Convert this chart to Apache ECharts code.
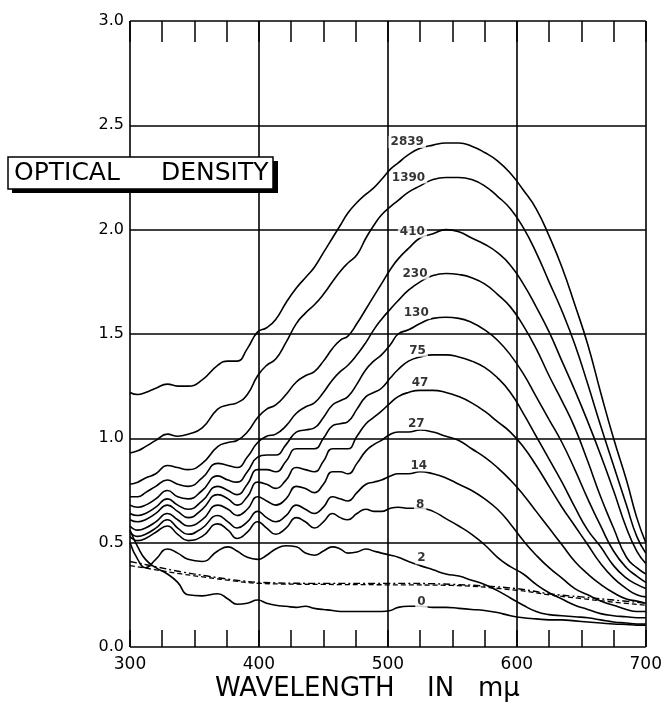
<!DOCTYPE html>
<html><head><meta charset="utf-8">
<script src="https://cdn.jsdelivr.net/npm/echarts/dist/echarts.min.js"></script>
<style>html,body{margin:0;padding:0;background:#fff}#c{width:665px;height:703px}</style>
</head><body><div id="c"></div>
<script>
// Wavelength sample points (m\u03bc) shared by the solid curves
const wavelengths = [300,306,312,320,329,337,345,356,368,376,383,391,399,406,413,421,429,436,443,450,457,463,469,476,483,489,495,502,508,516,525,535,545,555,565,575,585,595,605,615,625,635,645,655,665,675,685,693,700];

const d2839 = [1.22,1.21,1.22,1.24,1.26,1.25,1.25,1.28,1.35,1.37,1.37,1.43,1.51,1.53,1.57,1.65,1.72,1.77,1.82,1.89,1.96,2.02,2.08,2.13,2.17,2.20,2.24,2.29,2.32,2.36,2.39,2.405,2.415,2.415,2.40,2.37,2.33,2.27,2.19,2.10,1.97,1.82,1.64,1.45,1.22,1.00,0.80,0.62,0.50];
const d1390 = [0.93,0.94,0.96,0.99,1.02,1.01,1.02,1.05,1.14,1.16,1.17,1.21,1.30,1.35,1.38,1.46,1.55,1.60,1.64,1.69,1.75,1.80,1.84,1.88,1.96,2.02,2.07,2.11,2.14,2.18,2.21,2.24,2.25,2.25,2.24,2.21,2.16,2.10,2.01,1.89,1.75,1.61,1.45,1.26,1.06,0.87,0.68,0.53,0.45];
const d410 = [0.78,0.79,0.81,0.83,0.87,0.86,0.85,0.88,0.96,0.98,0.99,1.03,1.10,1.14,1.16,1.21,1.27,1.30,1.32,1.37,1.43,1.47,1.49,1.55,1.62,1.68,1.74,1.81,1.86,1.91,1.96,1.98,2.00,1.99,1.96,1.93,1.89,1.83,1.74,1.63,1.51,1.37,1.23,1.08,0.92,0.75,0.57,0.46,0.40];
const d230 = [0.72,0.72,0.74,0.77,0.80,0.78,0.77,0.81,0.88,0.87,0.86,0.91,0.98,1.01,1.02,1.06,1.12,1.15,1.17,1.22,1.28,1.32,1.35,1.40,1.46,1.52,1.57,1.62,1.66,1.71,1.75,1.78,1.79,1.785,1.77,1.74,1.69,1.63,1.54,1.43,1.30,1.18,1.05,0.89,0.72,0.57,0.43,0.38,0.35];
const d130 = [0.68,0.67,0.68,0.71,0.75,0.72,0.71,0.75,0.82,0.80,0.79,0.84,0.91,0.92,0.92,0.97,1.03,1.04,1.05,1.10,1.16,1.18,1.20,1.26,1.33,1.37,1.40,1.45,1.50,1.52,1.55,1.575,1.58,1.575,1.555,1.52,1.47,1.40,1.31,1.20,1.09,0.98,0.85,0.71,0.58,0.46,0.38,0.34,0.31];
const d75 = [0.64,0.63,0.64,0.67,0.71,0.68,0.66,0.70,0.77,0.75,0.73,0.78,0.85,0.85,0.84,0.89,0.95,0.95,0.95,1.00,1.06,1.07,1.08,1.14,1.20,1.22,1.24,1.29,1.33,1.37,1.39,1.40,1.40,1.39,1.37,1.34,1.29,1.22,1.12,1.01,0.90,0.79,0.67,0.56,0.48,0.39,0.33,0.30,0.28];
const d47 = [0.61,0.60,0.61,0.64,0.68,0.65,0.62,0.66,0.73,0.71,0.68,0.72,0.79,0.78,0.76,0.80,0.86,0.85,0.84,0.89,0.95,0.95,0.95,1.01,1.07,1.10,1.13,1.17,1.20,1.22,1.23,1.23,1.22,1.20,1.17,1.13,1.08,1.03,0.96,0.87,0.77,0.67,0.58,0.49,0.40,0.33,0.28,0.25,0.24];
const d27 = [0.58,0.56,0.57,0.60,0.64,0.61,0.58,0.61,0.68,0.66,0.63,0.66,0.72,0.70,0.68,0.71,0.77,0.76,0.74,0.78,0.84,0.84,0.83,0.88,0.94,0.97,0.99,1.02,1.03,1.03,1.04,1.03,1.01,0.99,0.95,0.91,0.86,0.80,0.73,0.65,0.57,0.49,0.41,0.35,0.30,0.26,0.23,0.22,0.21];
const d14 = [0.55,0.53,0.54,0.57,0.61,0.57,0.54,0.57,0.63,0.60,0.57,0.60,0.65,0.62,0.60,0.63,0.68,0.66,0.64,0.67,0.72,0.71,0.70,0.74,0.78,0.79,0.80,0.82,0.83,0.83,0.84,0.83,0.81,0.78,0.75,0.71,0.66,0.59,0.51,0.44,0.38,0.33,0.28,0.25,0.22,0.20,0.18,0.17,0.17];
const d8 = [0.53,0.51,0.52,0.55,0.58,0.54,0.51,0.53,0.59,0.56,0.52,0.55,0.60,0.57,0.54,0.57,0.62,0.60,0.57,0.60,0.64,0.62,0.61,0.64,0.66,0.65,0.65,0.665,0.67,0.665,0.665,0.65,0.615,0.58,0.54,0.49,0.43,0.385,0.35,0.30,0.26,0.23,0.20,0.18,0.16,0.15,0.145,0.14,0.14];
const d2 = [0.50,0.42,0.38,0.42,0.47,0.45,0.42,0.41,0.46,0.48,0.46,0.43,0.42,0.44,0.47,0.485,0.48,0.45,0.44,0.46,0.48,0.47,0.45,0.455,0.47,0.46,0.45,0.44,0.43,0.41,0.39,0.37,0.35,0.34,0.32,0.30,0.27,0.235,0.20,0.17,0.155,0.15,0.145,0.14,0.13,0.12,0.115,0.11,0.11];
const d0 = [0.56,0.48,0.42,0.38,0.35,0.31,0.25,0.245,0.255,0.23,0.205,0.21,0.225,0.21,0.20,0.195,0.19,0.195,0.185,0.18,0.175,0.17,0.17,0.17,0.17,0.17,0.17,0.175,0.19,0.195,0.195,0.19,0.19,0.185,0.18,0.175,0.165,0.15,0.14,0.135,0.13,0.13,0.125,0.12,0.115,0.11,0.108,0.105,0.105];

// Broken (dashed) reference curves
const dashWavelengths = [300,320,340,360,380,400,450,500,550,600,625,650,675,700];
const dashA = [0.41,0.385,0.36,0.34,0.322,0.31,0.305,0.305,0.30,0.28,0.255,0.24,0.225,0.21];
const dashB = [0.39,0.37,0.35,0.333,0.317,0.305,0.30,0.298,0.295,0.272,0.25,0.232,0.215,0.20];

// Curve labels and where they sit (data coordinates)
const labelNames = ['2839','1390','410','230','130','75','47','27','14','8','2','0'];
const labelX = [515,516,519,521,522,523,525,522,524,525,526,526];
const labelY = [2.42,2.25,1.99,1.79,1.60,1.42,1.265,1.07,0.87,0.68,0.425,0.215];

// Axis ticks
const xTicks = {min:300, max:700, step:100};
const yTicks = {min:0, max:3, step:0.5};

const solid = [d2839,d1390,d410,d230,d130,d75,d47,d27,d14,d8,d2,d0];
const pairs = (xs, ys) => xs.map((x,i) => [x, ys[i]]);

const FONT = 'DejaVu Sans';
const series = solid.map((d,i) => ({
  type:'line', name:labelNames[i], data:pairs(wavelengths,d), symbol:'none', smooth:0.5,
  lineStyle:{color:'#000', width:1.6}, z:3, silent:true
}));
series.push({type:'line', name:'dashA', data:pairs(dashWavelengths,dashA), symbol:'none', smooth:0.4,
  lineStyle:{color:'#000', width:1.4, type:[7,3,2,3]}, z:3, silent:true});
series.push({type:'line', name:'dashB', data:pairs(dashWavelengths,dashB), symbol:'none', smooth:0.4,
  lineStyle:{color:'#000', width:1.3, type:[5,3]}, z:3, silent:true});
series.push({type:'scatter', name:'labels', data:labelX.map((x,i)=>[x,labelY[i]]), symbolSize:0, z:5, silent:true,
  itemStyle:{color:'#000'},
  label:{show:true, position:'inside', formatter:p=>labelNames[p.dataIndex], color:'#000', fontFamily:FONT,
    fontSize:12, fontWeight:'bold', backgroundColor:'#fff', padding:[0,2], textBorderWidth:0}});

const chart = echarts.init(document.getElementById('c'), null, {renderer:'canvas'});
const gridLine = {show:true, lineStyle:{color:'#000', width:1.6}};
chart.setOption({
  animation:false,
  backgroundColor:'#fff',
  grid:{left:130, right:17, top:21, bottom:56},
  xAxis:[
    {type:'value', position:'bottom', min:xTicks.min, max:xTicks.max, interval:xTicks.step,
     axisLine:{show:false}, axisTick:{show:true, inside:true, length:17, lineStyle:{color:'#000', width:1.5}},
     minorTick:{show:true, splitNumber:4, length:17, lineStyle:{color:'#000', width:1.5}},
     axisLabel:{color:'#000', fontFamily:FONT, fontSize:17, margin:9},
     splitLine:gridLine},
    {type:'value', position:'top', min:xTicks.min, max:xTicks.max, interval:xTicks.step,
     axisLine:{show:false}, axisTick:{show:true, inside:true, length:21, lineStyle:{color:'#000', width:1.5}},
     minorTick:{show:true, splitNumber:4, length:21, lineStyle:{color:'#000', width:1.5}},
     axisLabel:{show:false}, splitLine:{show:false}}
  ],
  yAxis:{type:'value', min:yTicks.min, max:yTicks.max, interval:yTicks.step,
    axisLine:{show:false}, axisTick:{show:false},
    axisLabel:{color:'#000', fontFamily:FONT, fontSize:16, margin:6, formatter:v=>v.toFixed(1)},
    splitLine:gridLine},
  series:series,
  graphic:[
    {type:'rect', shape:{x:12, y:161, width:266, height:32}, style:{fill:'#000'}, z:10},
    {type:'rect', shape:{x:8, y:157, width:265, height:32}, style:{fill:'#fff', stroke:'#000', lineWidth:1.5}, z:11},
    {type:'text', left:14, top:161, style:{text:'OPTICAL', fill:'#000', font:'25px "DejaVu Sans"'}, z:12},
    {type:'text', left:161, top:161, style:{text:'DENSITY', fill:'#000', font:'25px "DejaVu Sans"'}, z:12},
    {type:'text', left:215, top:676, style:{text:'WAVELENGTH', fill:'#000', font:'26px "DejaVu Sans"'}, z:12},
    {type:'text', left:427, top:676, style:{text:'IN', fill:'#000', font:'26px "DejaVu Sans"'}, z:12},
    {type:'text', left:478, top:676, style:{text:'m\u03bc', fill:'#000', font:'26px "DejaVu Sans"'}, z:12}
  ]
});
</script></body></html>
